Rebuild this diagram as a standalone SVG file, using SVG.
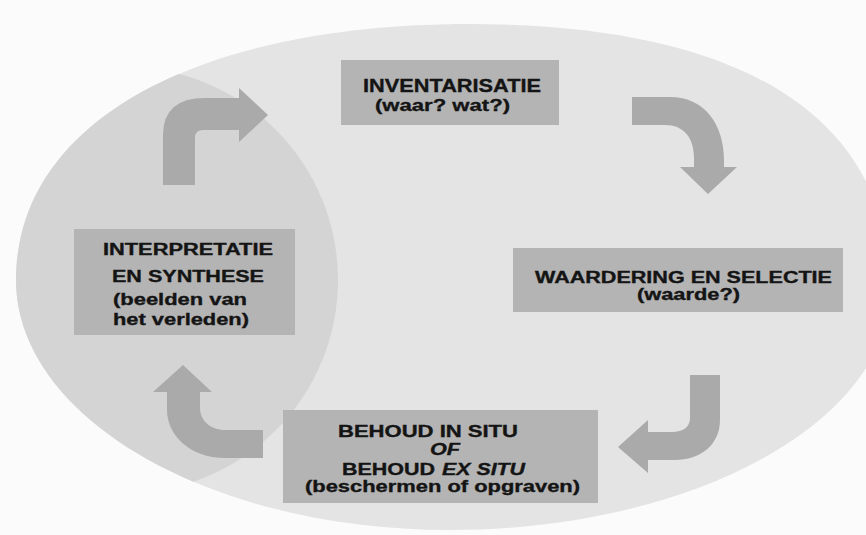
<svg xmlns="http://www.w3.org/2000/svg" width="866" height="535" viewBox="0 0 866 535">
<style>
.box{fill:#b4b4b4}
.arr{fill:#aaaaaa}
.t{font-family:"Liberation Sans",Arial,Helvetica,sans-serif;font-weight:bold;fill:#141414;stroke:#141414;stroke-width:0.35}
.i{font-style:italic}
</style>
<defs>
<clipPath id="ov"><path d="M16,280 C16,120 200,24 470,24 C743,24 890,117 890,290 C890,422 692,530 450,530 C210,530 16,418 16,280 Z"/></clipPath>
</defs>
<rect x="0" y="0" width="866" height="535" fill="#fbfbfb"/>
<g id="background">
<path d="M16,280 C16,120 200,24 470,24 C743,24 890,117 890,290 C890,422 692,530 450,530 C210,530 16,418 16,280 Z" fill="#e4e4e4"/>
<circle cx="125" cy="280" r="213" fill="#d4d4d4" clip-path="url(#ov)"/>
</g>
<g id="connectors">
<path class="arr" d="M163,185 L163,135 Q163,98 205,98 L239,98 L239,88 L268,115 L239,142 L239,130 L203,130 Q195,130 195,138 L195,185 Z"/>
<path class="arr" d="M632,97 L670,97 C705,97 724,125 724,160 L724,167 L737,167 L708,194 L680,167 L694,167 L694,158 C694,138 684,125 665,125 L632,125 Z"/>
<path class="arr" d="M690,375 L720,375 L720,420 C720,445 700,460 675,460 L648,460 L648,473 L618,447 L648,420 L648,432 L672,432 C683,432 690,427 690,418 Z"/>
<path class="arr" d="M263,430 L263,458 L225,458 C190,458 167,435 167,410 L167,392 L153,392 L183,365 L212,392 L200,392 L200,408 C200,420 210,430 225,430 Z" fill="#afafaf"/>
</g>
<g id="inventarisatie">
<rect class="box" x="341" y="60" width="218" height="65"/>
<text class="t" x="363" y="92" font-size="18" textLength="178" lengthAdjust="spacingAndGlyphs">INVENTARISATIE</text>
<text class="t" x="375" y="111" font-size="17" textLength="135" lengthAdjust="spacingAndGlyphs">(waar? wat?)</text>
</g>
<g id="waardering">
<rect class="box" x="513" y="248" width="330" height="64"/>
<text class="t" x="535" y="283" font-size="16" textLength="297" lengthAdjust="spacingAndGlyphs">WAARDERING EN SELECTIE</text>
<text class="t" x="637" y="300" font-size="16" textLength="103" lengthAdjust="spacingAndGlyphs">(waarde?)</text>
</g>
<g id="interpretatie">
<rect class="box" x="74" y="229" width="221" height="106"/>
<text class="t" x="103" y="255" font-size="16" textLength="170" lengthAdjust="spacingAndGlyphs">INTERPRETATIE</text>
<text class="t" x="112" y="282" font-size="16" textLength="152" lengthAdjust="spacingAndGlyphs">EN SYNTHESE</text>
<text class="t" x="113" y="305" font-size="16" textLength="134" lengthAdjust="spacingAndGlyphs">(beelden van</text>
<text class="t" x="113" y="325" font-size="16" textLength="136" lengthAdjust="spacingAndGlyphs">het verleden)</text>
</g>
<g id="behoud">
<rect class="box" x="283" y="410" width="315" height="93"/>
<text class="t" x="338" y="437" font-size="16" textLength="180" lengthAdjust="spacingAndGlyphs">BEHOUD IN SITU</text>
<text class="t i" x="430" y="455" font-size="16" textLength="30" lengthAdjust="spacingAndGlyphs">OF</text>
<text class="t" x="342" y="475" font-size="16" textLength="93" lengthAdjust="spacingAndGlyphs">BEHOUD</text>
<text class="t i" x="442" y="475" font-size="16" textLength="83" lengthAdjust="spacingAndGlyphs">EX SITU</text>
<text class="t" x="305" y="492" font-size="16" textLength="275" lengthAdjust="spacingAndGlyphs">(beschermen of opgraven)</text>
</g>
</svg>
